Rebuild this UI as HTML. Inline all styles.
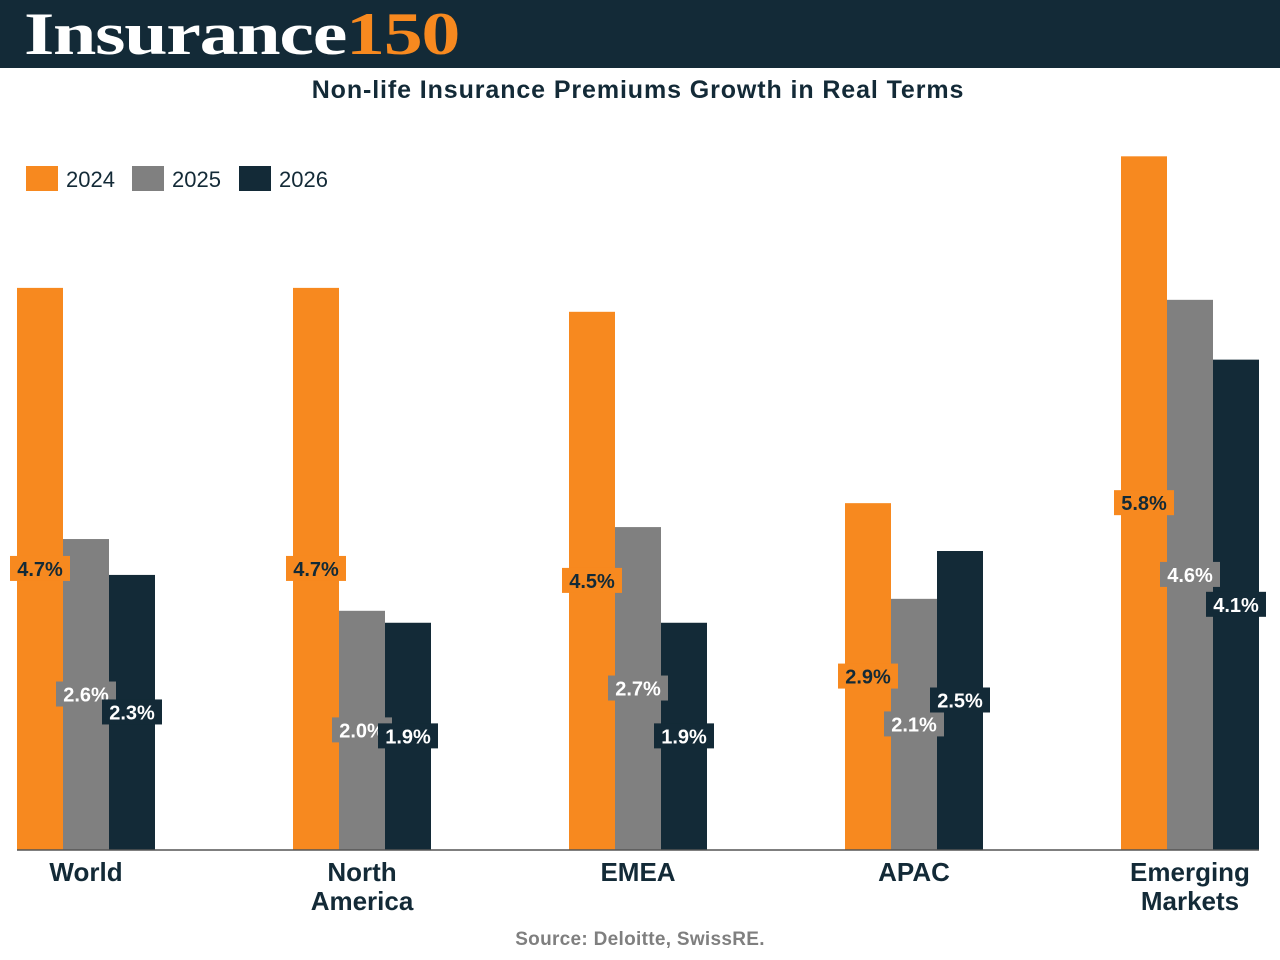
<!DOCTYPE html>
<html><head><meta charset="utf-8"><style>
body{margin:0;width:1280px;height:960px;background:#fff;font-family:"Liberation Sans",sans-serif;overflow:hidden;position:relative}
#hdr{position:absolute;left:0;top:0;width:1280px;height:68px;background:#132a37}
#logo{position:absolute;left:24px;top:0px;font-family:"Liberation Serif",serif;font-weight:bold;font-size:60px;color:#fff;letter-spacing:-1px;transform-origin:0 0;transform:scaleX(1.3);white-space:nowrap}
#logo span{color:#f7891f}
#title{position:absolute;top:76px;width:1276px;text-align:center;font-weight:bold;font-size:25px;letter-spacing:0.9px;color:#132a37}
#src{position:absolute;top:929px;width:1280px;text-align:center;font-weight:bold;font-size:19px;letter-spacing:0.3px;color:#7f7f7f}
</style></head><body>
<div id="hdr"><div id="logo">Insurance<span>150</span></div></div>
<div id="title">Non-life Insurance Premiums Growth in Real Terms</div>
<svg id="chart" width="1280" height="960" style="position:absolute;left:0;top:0"></svg>
<div id="src">Source: Deloitte, SwissRE.</div>
<script>
const categories=[["World"],["North","America"],["EMEA"],["APAC"],["Emerging","Markets"]];
const seriesNames=["2024","2025","2026"];
const v2024=[4.7,4.7,4.5,2.9,5.8];
const v2025=[2.6,2.0,2.7,2.1,4.6];
const v2026=[2.3,1.9,1.9,2.5,4.1];
const colors=["#f7891f","#808080","#132a37"];
const textColors=["#132a37","#fff","#fff"];
const svg=document.getElementById('chart');
const NS="http://www.w3.org/2000/svg";
const base=850,scale=119.6,x0=17,gap=276,bw=46;
const y=v=>base-v*scale;
const x=(c,s)=>x0+c*gap+s*bw;
function mk(t,a){const e=document.createElementNS(NS,t);for(const k in a)e.setAttribute(k,a[k]);svg.appendChild(e);return e;}
const series=[v2024,v2025,v2026];
series.forEach((vals,s)=>{vals.forEach((v,c)=>{
 const r=mk('rect',{x:x(c,s),y:y(v),width:bw,height:base-y(v),fill:colors[s]});
 
 
});});
series.forEach((vals,s)=>{vals.forEach((v,c)=>{
 const cx=x(c,s)+bw/2,cy=(y(v)+base)/2;
 const lb=mk('rect',{x:cx-30,y:cy-13,width:60,height:25,fill:colors[s]});
 
 
 const t=mk('text',{x:cx,y:cy+7,'text-anchor':'middle','font-size':20,'font-weight':'bold',fill:textColors[s]});
 t.textContent=v.toFixed(1)+'%';
 
 
});});
const ax=mk('line',{x1:17,x2:1259,y1:base,y2:base,stroke:'#555','stroke-width':1.5});


categories.forEach((lines,c)=>{
 const cx=x(c,1)+bw/2;
 lines.forEach((ln,i)=>{
  const t=mk('text',{x:cx,y:881+i*29,'text-anchor':'middle','font-size':26,'font-weight':'bold',fill:'#132a37'});
  t.textContent=ln;
  
  
 });
});
const lx=[26,132,239];
seriesNames.forEach((n,s)=>{
 const r=mk('rect',{x:lx[s],y:166,width:32,height:25,fill:colors[s]});
 
 
 const t=mk('text',{x:lx[s]+40,y:187,'font-size':22,fill:'#132a37'});
 t.textContent=n;
 
 
});
</script>
</body></html>
